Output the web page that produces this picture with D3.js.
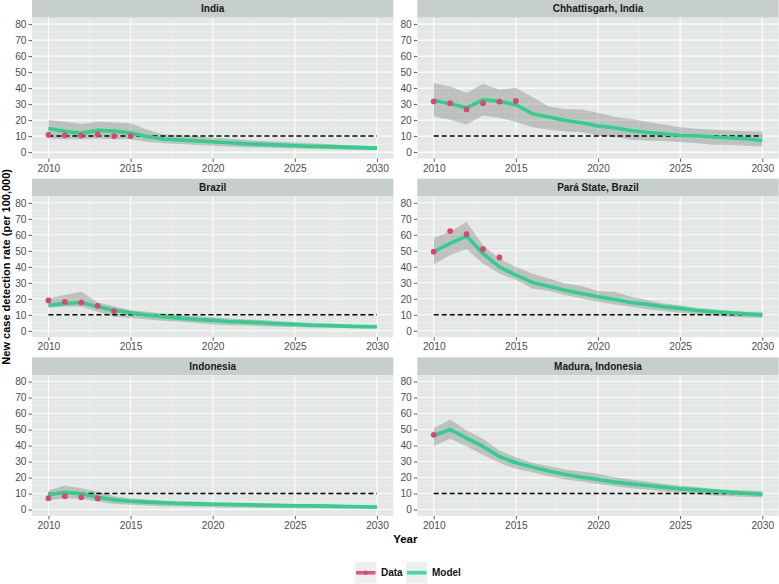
<!DOCTYPE html>
<html>
<head>
<meta charset="utf-8">
<script src="https://cdn.jsdelivr.net/npm/d3@7"></script>
<style>
  html, body { margin: 0; padding: 0; background: #ffffff; }
  svg { display: block; font-family: "Liberation Sans", Arial, sans-serif; }
</style>
</head>
<body>
<svg id="chart" width="779" height="584"></svg>
<script>
// ---------------- DATA ----------------
const years = d3.range(2010, 2031);
const xTicks = [2010, 2015, 2020, 2025, 2030];
const yTicks = [0, 10, 20, 30, 40, 50, 60, 70, 80];
const target = 10;
const panelNames = ["India", "Chhattisgarh, India", "Brazil", "Pará State, Brazil", "Indonesia", "Madura, Indonesia"];
const legendLabels = ["Data", "Model"];

const indiaModel = [14.8, 13, 11.7, 13.7, 13.1, 11.9, 9.8, 8.2, 7.6, 7.0, 6.5, 5.8, 5.2, 4.8, 4.5, 4.0, 3.7, 3.4, 3.1, 2.8, 2.5];
const indiaLower = [8.5, 8, 8, 8.5, 8, 8, 6.5, 5.5, 5, 4.5, 4, 3.5, 3, 2.8, 2.5, 2.2, 2, 1.8, 1.5, 1.3, 1.2];
const indiaUpper = [20, 19, 17.5, 19, 18.5, 18, 14, 11, 10.5, 10, 9, 8.5, 7.5, 7, 6.5, 6, 5.5, 5, 4.5, 4, 3.5];
const indiaData = [10.8, 10.5, 10.3, 11, 10, 10];

const chhModel = [32.3, 30.2, 27.7, 32.7, 31.7, 29.6, 24, 21.9, 19.8, 18.3, 16.3, 15.2, 13.5, 12.3, 11.5, 10.4, 10.2, 9.4, 9, 8.3, 7.3];
const chhLower = [22.3, 20.2, 17.3, 22.9, 21.5, 18.8, 15.6, 14, 12.9, 12.5, 10.4, 9.4, 7.7, 7.3, 6.9, 6.3, 5.6, 4.6, 4.6, 4, 3.5];
const chhUpper = [43, 41, 37, 42.7, 39, 40.2, 34.4, 28.5, 27, 26.7, 24.6, 21.9, 20.8, 18.8, 17.3, 15.6, 14.6, 14, 13.5, 13.1, 12.9];
const chhData = [31.7, 30.6, 26.7, 30.6, 31.5, 32];

const brazilModel = [16, 17.1, 17.7, 15, 12.9, 11.3, 9.8, 8.8, 7.9, 7.1, 6.5, 5.8, 5.4, 5, 4.4, 4, 3.5, 3.3, 2.9, 2.7, 2.5];
const brazilLower = [14.4, 15, 15, 11.9, 8.8, 8.1, 7.1, 6.3, 5.6, 4.8, 4, 3.5, 3.3, 2.9, 2.5, 2.3, 2.1, 1.9, 1.7, 1.5, 1.5];
const brazilUpper = [20, 22.3, 24.4, 17.7, 15.4, 12.9, 11.9, 10.8, 9.8, 9.2, 8.5, 7.7, 7.1, 6.7, 6, 5.4, 5, 4.6, 4, 3.5, 3.3];
const brazilData = [19, 18.1, 17.7, 15.6, 12.3];

const paraModel = [49.4, 54.6, 59.2, 48.3, 40, 34.8, 30.2, 27.9, 25.4, 23.3, 21.3, 19.6, 17.7, 16.5, 15, 14, 12.7, 11.9, 11.3, 10.6, 9.8];
const paraLower = [41.5, 47.3, 51, 42, 35.8, 31.7, 26.5, 24.8, 22.3, 20.2, 18.1, 16.5, 15, 13.5, 12.3, 11.3, 10.2, 9.4, 8.8, 8.3, 8.1];
const paraUpper = [58, 62, 68, 53.5, 45, 40, 35.8, 32.7, 29.6, 28, 24.8, 24.4, 21.3, 19.2, 17.1, 16, 14.4, 13.5, 12.5, 11.9, 11.9];
const paraData = [49.4, 62.3, 60.4, 51, 45.8];

const indonesiaModel = [9.2, 10.8, 9.8, 7.7, 6, 5.2, 4.6, 4.2, 3.75, 3.5, 3.3, 3.1, 2.9, 2.7, 2.5, 2.3, 2.3, 2.1, 1.9, 1.7, 1.5];
const indonesiaLower = [5.6, 7.1, 6.7, 5, 3.5, 2.9, 2.5, 2.1, 1.9, 1.7, 1.5, 1.25, 1.25, 1, 1, 0.8, 0.8, 0.6, 0.6, 0.6, 0.4];
const indonesiaUpper = [11.9, 15, 13.3, 11.3, 8.3, 7.1, 6.3, 5.6, 5.2, 5, 4.6, 4.4, 4.2, 4, 3.75, 3.5, 3.3, 3.1, 2.9, 2.7, 2.5];
const indonesiaData = [7.1, 8.3, 7.7, 6.9];

const maduraModel = [46.25, 50, 44.6, 39.4, 33.1, 29.2, 26.5, 24, 21.9, 20.2, 18.75, 17.1, 16, 15, 14, 12.9, 12.3, 11.5, 10.8, 10.2, 9.4];
const maduraLower = [39.6, 44.2, 39.6, 34.2, 29.2, 25.4, 23.3, 20.8, 18.75, 17.5, 16, 14.6, 13.3, 12.5, 11.25, 10.4, 9.8, 8.75, 8.3, 7.9, 7.5];
const maduraUpper = [50.8, 56.25, 49.4, 44.2, 36.9, 32.7, 29.2, 27.1, 25, 23.75, 22.3, 20.2, 18.75, 17.5, 16, 15, 14, 12.9, 12.3, 11.9, 11.5];
const maduraData = [46.7];

// ---------------- STYLE / LAYOUT ----------------
const C = {
  panelBg: "#e3e7e5", strip: "#c6cfcc", grid: "#ffffff",
  ribbon: "#808080", model: "#2fcf8e", data: "#d9486c",
  tick: "#4d4d4d", keyBg: "#eef0ef"
};
const colX = [32, 417.3];
const panelW = 361.4;
const rowY = [0, 178.7, 357.4];
const stripH = 17.7;
const plotH = 140.8;

const panels = [
  {name: panelNames[0], model: indiaModel, lower: indiaLower, upper: indiaUpper, data: indiaData},
  {name: panelNames[1], model: chhModel, lower: chhLower, upper: chhUpper, data: chhData},
  {name: panelNames[2], model: brazilModel, lower: brazilLower, upper: brazilUpper, data: brazilData},
  {name: panelNames[3], model: paraModel, lower: paraLower, upper: paraUpper, data: paraData},
  {name: panelNames[4], model: indonesiaModel, lower: indonesiaLower, upper: indonesiaUpper, data: indonesiaData},
  {name: panelNames[5], model: maduraModel, lower: maduraLower, upper: maduraUpper, data: maduraData}
];

const svg = d3.select("#chart");

const x = d3.scaleLinear().domain([2009, 2031]).range([0, panelW]);
const y = d3.scaleLinear().domain([-4, 84]).range([plotH, 0]);
const minorX = [2012.5, 2017.5, 2022.5, 2027.5];
const minorY = d3.range(5, 80, 10);

panels.forEach((p, i) => {
  const col = i % 2, row = Math.floor(i / 2);
  const gx = colX[col], gy = rowY[row];
  const g = svg.append("g").attr("transform", `translate(${gx},${gy})`);

  // strip
  g.append("rect").attr("x", 0).attr("y", 0).attr("width", panelW).attr("height", stripH).attr("fill", C.strip);
  g.append("text").attr("x", panelW / 2).attr("y", stripH / 2 + 3.6)
    .attr("text-anchor", "middle").attr("font-size", 10).attr("font-weight", "bold").attr("fill", "#1a1a1a")
    .text(p.name);

  const pg = g.append("g").attr("transform", `translate(0,${stripH})`);
  const clipId = "clip" + i;
  pg.append("clipPath").attr("id", clipId).append("rect").attr("width", panelW).attr("height", plotH);
  pg.append("rect").attr("width", panelW).attr("height", plotH).attr("fill", C.panelBg);

  // minor grid
  pg.selectAll(".mgx").data(minorX).join("line")
    .attr("x1", d => x(d)).attr("x2", d => x(d)).attr("y1", 0).attr("y2", plotH)
    .attr("stroke", "#f3f5f4").attr("stroke-width", 0.6);
  pg.selectAll(".mgy").data(minorY).join("line")
    .attr("y1", d => y(d)).attr("y2", d => y(d)).attr("x1", 0).attr("x2", panelW)
    .attr("stroke", "#f3f5f4").attr("stroke-width", 0.6);
  // major grid
  pg.selectAll(".gx").data(xTicks).join("line")
    .attr("x1", d => x(d)).attr("x2", d => x(d)).attr("y1", 0).attr("y2", plotH)
    .attr("stroke", C.grid).attr("stroke-width", 1.1);
  pg.selectAll(".gy").data(yTicks).join("line")
    .attr("y1", d => y(d)).attr("y2", d => y(d)).attr("x1", 0).attr("x2", panelW)
    .attr("stroke", C.grid).attr("stroke-width", 1.1);

  const body = pg.append("g").attr("clip-path", `url(#${clipId})`);

  // ribbon
  const area = d3.area().x((d, k) => x(years[k])).y0((d, k) => y(p.lower[k])).y1((d, k) => y(p.upper[k]));
  body.append("path").datum(p.model).attr("d", area).attr("fill", C.ribbon).attr("fill-opacity", 0.38);

  // target line
  body.append("line").attr("x1", x(2010)).attr("x2", x(2030)).attr("y1", y(target)).attr("y2", y(target))
    .attr("stroke", "#000").attr("stroke-width", 1.5).attr("stroke-dasharray", "5,3");

  // model line
  const line = d3.line().x((d, k) => x(years[k])).y(d => y(d));
  body.append("path").datum(p.model).attr("d", line).attr("fill", "none")
    .attr("stroke", C.model).attr("stroke-width", 3.6).attr("stroke-linejoin", "round");

  // data points
  body.selectAll(".pt").data(p.data).join("circle")
    .attr("cx", (d, k) => x(years[k])).attr("cy", d => y(d)).attr("r", 2.9).attr("fill", C.data);

  // y axis
  const yAxis = d3.axisLeft(y).tickValues(yTicks).tickSize(3.5).tickPadding(2);
  const ya = pg.append("g").call(yAxis);
  ya.select(".domain").remove();
  ya.selectAll(".tick line").attr("stroke", "#4d4d4d").attr("stroke-width", 0.9);
  ya.selectAll(".tick text").attr("font-size", 10.2).attr("fill", C.tick).attr("font-family", "Liberation Sans, Arial, sans-serif");

  // x axis
  const xAxis = d3.axisBottom(x).tickValues(xTicks).tickFormat(d3.format("d")).tickSize(3.5).tickPadding(2.5);
  const xa = pg.append("g").attr("transform", `translate(0,${plotH})`).call(xAxis);
  xa.select(".domain").remove();
  xa.selectAll(".tick line").attr("stroke", "#4d4d4d").attr("stroke-width", 0.9);
  xa.selectAll(".tick text").attr("font-size", 10.2).attr("fill", C.tick).attr("font-family", "Liberation Sans, Arial, sans-serif");
});

// axis titles
svg.append("text").attr("x", (colX[0] + colX[1] + panelW) / 2).attr("y", 543)
  .attr("text-anchor", "middle").attr("font-size", 11.5).attr("font-weight", "bold").text("Year");
const yMid = (rowY[0] + stripH + rowY[2] + stripH + plotH) / 2;
svg.append("text").attr("transform", `translate(10,${yMid}) rotate(-90)`)
  .attr("text-anchor", "middle").attr("font-size", 11).attr("font-weight", "bold")
  .text("New case detection rate (per 100,000)");

// legend
const legend = svg.append("g").attr("transform", "translate(355,562)");
const keyW = 21.5, keyH = 21.5;
const keyXs = [0, 51];
legendLabels.forEach((lab, i) => {
  const k = legend.append("g").attr("transform", `translate(${keyXs[i]},0)`);
  k.append("rect").attr("width", keyW).attr("height", keyH).attr("fill", C.keyBg);
  const col = i === 0 ? C.data : C.model;
  k.append("line").attr("x1", 1).attr("x2", keyW - 1).attr("y1", keyH / 2).attr("y2", keyH / 2)
    .attr("stroke", i === 0 ? "#e3587c" : "#3bdc9c").attr("stroke-width", 3.6);
  if (i === 0) {
    k.append("circle").attr("cx", keyW / 2).attr("cy", keyH / 2).attr("r", 2.2).attr("fill", col);
  }
  k.append("text").attr("x", keyW + 4.5).attr("y", keyH / 2 + 3.6)
    .attr("font-size", 10).attr("font-weight", "bold").attr("fill", "#111").text(lab);
});
</script>
</body>
</html>
